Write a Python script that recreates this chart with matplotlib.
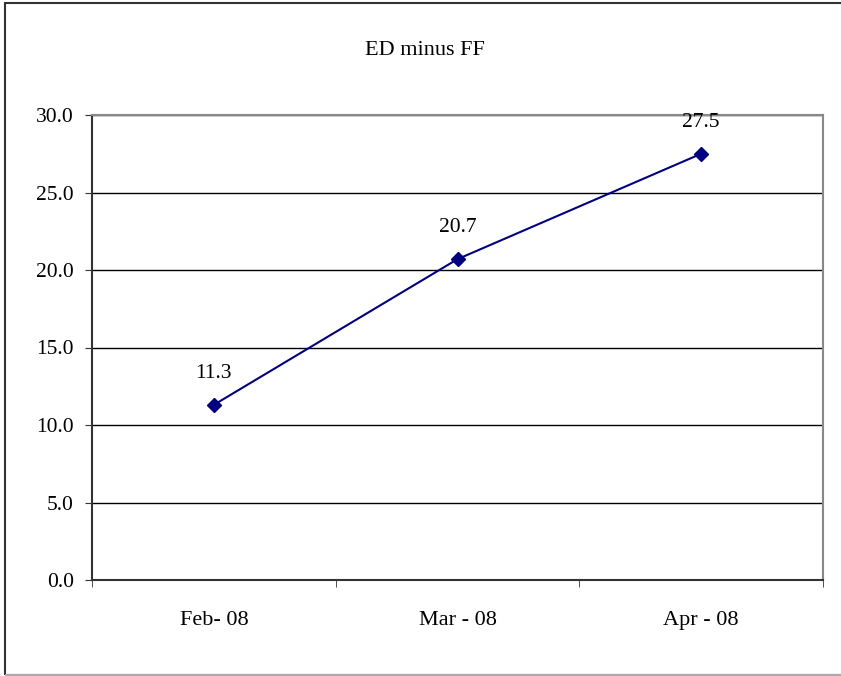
import numpy as np
import matplotlib.pyplot as plt
from matplotlib.patches import Rectangle

months = ['Feb- 08', 'Mar - 08', 'Apr - 08']
spread = [11.3, 20.7, 27.5]
y_ticks = [0, 5, 10, 15, 20, 25, 30]

plt.rcParams['font.family'] = ['Liberation Serif', 'DejaVu Serif']

fig = plt.figure(figsize=(8.41, 6.76), dpi=100)
W, H = 841, 676

# outer chart border
fig.patches.append(Rectangle((5 / W, 1 / H), 1.0, 1 - 3.5 / H, transform=fig.transFigure,
                             fill=False, edgecolor='#333333', lw=1.5, clip_on=False))
fig.patches.append(Rectangle((5 / W, 1 / H), 1.0, 0, transform=fig.transFigure,
                             fill=False, edgecolor='#aaaaaa', lw=1.5, clip_on=False))

ax = fig.add_axes([92 / W, 1 - 580 / H, (823 - 92) / W, (580 - 115) / H])

x = np.arange(len(months))
ax.plot(x, spread, color='#000080', lw=1.5, marker='D', markersize=7.5,
        markerfacecolor='#000080', markeredgecolor='#000080', zorder=3)
for xi, v in zip(x, spread):
    ax.annotate(f'{v:.1f}', (xi, v), xytext=(0, 19.5), textcoords='offset points',
                ha='center', va='baseline', fontsize=15.5)

ax.set_xlim(-0.5, len(months) - 0.5)
ax.set_ylim(0, 30)
ax.set_yticks(y_ticks)
ax.set_yticklabels([f'{t:.1f}' for t in y_ticks], fontsize=15.5)
ax.set_xticks(x)
ax.set_xticklabels(months, fontsize=16)
ax.set_xticks(np.arange(len(months) + 1) - 0.5, minor=True)
ax.tick_params(axis='x', which='major', length=0, pad=22)
ax.tick_params(axis='x', which='minor', length=5, direction='out', color='#333333')
ax.tick_params(axis='y', length=5, direction='out', color='#333333', pad=8)

ax.yaxis.grid(True, color='black', lw=1.0)
ax.set_axisbelow(True)
for side in ['left', 'bottom']:
    ax.spines[side].set_color('#333333')
    ax.spines[side].set_linewidth(1.5)
for side in ['top', 'right']:
    ax.spines[side].set_color('#888888')
    ax.spines[side].set_linewidth(1.5)

fig.text(425 / W, 1 - 55 / H, 'ED minus FF', ha='center', va='baseline', fontsize=16)

fig.savefig('out.png', dpi=100)
